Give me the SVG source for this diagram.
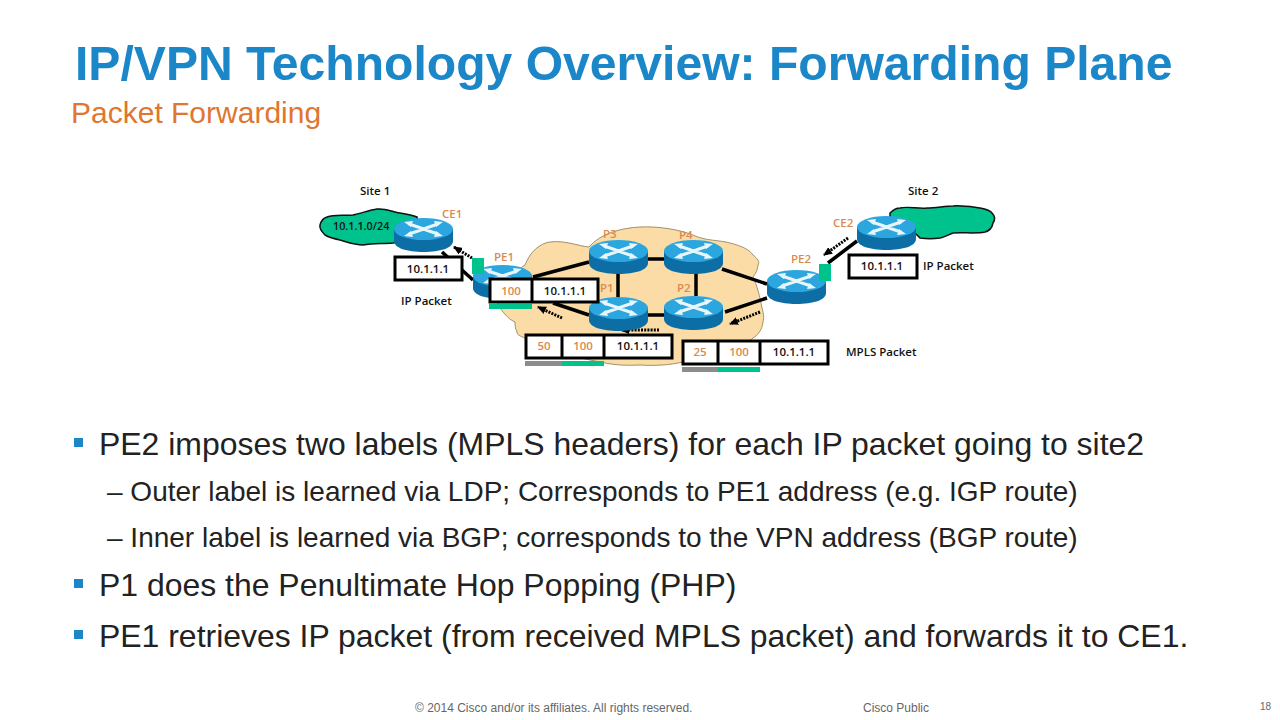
<svg xmlns="http://www.w3.org/2000/svg" width="1280" height="720" viewBox="0 0 1280 720">
<style>
text{font-family:"Liberation Sans",Arial,sans-serif}
.t{font-size:48.100px;font-weight:bold;fill:#1b87c9}
.s{font-size:30px;fill:#e0762f}
.b1{font-size:31.950px;fill:#222}
.b2{font-size:28px;fill:#222}
.bu{fill:#1b87c9}
.f{font-size:12px;fill:#666}
.d{font-family:"Open Sans","DejaVu Sans",sans-serif;font-size:11.500px;font-weight:600;fill:#111}
.o{font-family:"Open Sans","DejaVu Sans",sans-serif;font-size:11.500px;font-weight:600;fill:#d98a4e}
.c{text-anchor:middle}
.box{fill:#fff;stroke:#000;stroke-width:3}
.l{stroke:#000;stroke-width:3.500;fill:none}
.da{stroke:#000;stroke-width:3;stroke-dasharray:2 1.200;fill:none;marker-end:url(#ah)}
</style>
<defs>
<marker id="ah" markerUnits="userSpaceOnUse" markerWidth="9" markerHeight="8" refX="8" refY="4" orient="auto"><path d="M0 0L9 4L0 8Z" fill="#000"/></marker>
<g id="r">
<path d="M0 11V23C0 30 13 34 29.500 34S59 30 59 23V11Z" fill="#0d6ea6"/>
<ellipse cx="29.500" cy="11" rx="29.500" ry="11" fill="#2ba6de"/>
<path d="M15 6L24 9M44 16L35 13M44 6L35 9M15 16L24 13M24 9L35 13M35 9L24 13" fill="none" stroke="#e8f5fb" stroke-width="3"/>
<path d="M10 4L19 3L17 9ZM49 18L40 19L42 13ZM49 4L40 3L42 9ZM10 18L19 19L17 13Z" fill="#e8f5fb"/>
</g>
</defs>
<rect width="1280" height="720" fill="#fff"/>
<text class="t" x="75" y="80">IP/VPN Technology Overview: Forwarding Plane</text>
<text class="s" x="71" y="123">Packet Forwarding</text>

<g id="clouds">
<path id="core" d="M525 265C530 252 540 243 550 242C565 240 578 246 589 247C600 234 620 228 640 227C660 226 680 230 693 235C705 241 720 240 730 243C742 246 750 250 753 255C758 259 760 262 758 265C758 270 755 274 753 277C757 285 760 297 762 308C764 315 764 318 763 322C762 330 758 335 753 338C745 346 735 352 720 356C708 360 695 362 683 362C670 365 655 366 640 365C620 366 610 364 600 362C580 358 550 352 525 338C520 336 517 335 517 332C515 328 515 325 515 322C510 320 505 315 500 308C495 300 495 290 500 285C510 275 518 270 525 265Z" fill="#fbdca6" stroke="#8a7a50" stroke-width="0.800"/>
<path id="cloud1" d="M320 225C321 221 324 218 327 217C335 214 345 216 353 215C362 213 370 210 377 209C385 208 393 212 400 213C406 214 412 215 417 217L420 238L393 243C383 244 373 243 363 245C355 245 347 242 340 240C335 239 330 238 325 235C322 232 319 229 320 225Z" fill="#00c28c" stroke="#111" stroke-width="1.500"/>
<path id="cloud2" d="M890 213C893 210 896 208 900 208C908 206 918 209 927 208C936 208 945 206 953 206C962 205 972 207 980 208C985 209 990 210 992 213C995 216 995 220 993 223C992 228 989 231 985 232C975 234 963 232 953 233C948 235 945 237 940 238C933 239 927 239 920 238L915 233L890 225Z" fill="#00c28c" stroke="#111" stroke-width="1.500"/>
</g>

<g id="connectors">
<path class="l" d="M442 252L473 280M533 277L589 262M618 273V297M553 303L589 315M696 273V296M722 269L767 284M648 259L664 259M648 315L664 315M767 298L725 312M828 263L857 241"/>
<path class="da" d="M472 258L454 247"/>
<path class="da" d="M562 318L538 307"/>
<path class="da" d="M659 330L621 330"/>
<path class="da" d="M760 312L730 324"/>
<path class="da" d="M848 238L824 255"/>
</g>

<g id="CE1"><use href="#r" x="394" y="218"/><text class="o" x="442" y="218">CE1</text></g>
<g id="PE1"><use href="#r" x="473" y="265"/><text class="o" x="494" y="261">PE1</text></g>
<g id="P3"><use href="#r" x="589" y="240"/><text class="o" x="603" y="238">P3</text></g>
<g id="P1"><use href="#r" x="589" y="297"/><text class="o" x="600" y="292">P1</text></g>
<g id="P4"><use href="#r" x="664" y="240"/><text class="o" x="679" y="239">P4</text></g>
<g id="P2"><use href="#r" x="664" y="296"/><text class="o" x="677" y="292">P2</text></g>
<g id="PE2"><use href="#r" x="767" y="270"/><text class="o" x="791" y="263">PE2</text></g>
<g id="CE2"><use href="#r" x="857" y="216"/><text class="o" x="833" y="227">CE2</text></g>

<g id="ports"><rect x="472" y="258" width="12" height="16" fill="#00c28c"/><rect x="819" y="264" width="12" height="17" fill="#00c28c"/></g>

<g id="labels">
<text class="d" x="360" y="195">Site 1</text>
<text class="d" x="908" y="195">Site 2</text>
<text class="d" x="333" y="230" style="font-size:10.800px">10.1.1.0/24</text>
<text class="d" x="401" y="305">IP Packet</text>
<text class="d" x="923" y="270">IP Packet</text>
<text class="d" x="846" y="356">MPLS Packet</text>
</g>

<g id="pkt-ip-left"><rect class="box" x="395" y="257" width="67" height="23"/><text class="d c" x="428" y="273">10.1.1.1</text></g>
<g id="pkt-pe1">
<rect class="box" x="490" y="279" width="108" height="23"/><path d="M532 279V302" stroke="#000" stroke-width="3"/>
<text class="o c" x="511" y="295">100</text><text class="d c" x="565" y="295">10.1.1.1</text>
<rect x="489" y="304" width="43" height="5" fill="#00c28c"/>
</g>
<g id="pkt-p1">
<rect class="box" x="526" y="335" width="146" height="23"/><path d="M562 335V358M604 335V358" stroke="#000" stroke-width="3"/>
<text class="o c" x="544" y="350">50</text><text class="o c" x="583" y="350">100</text><text class="d c" x="638" y="350">10.1.1.1</text>
<rect x="525" y="361" width="37" height="5" fill="#8c8c8c"/><rect x="562" y="361" width="42" height="5" fill="#00c28c"/>
</g>
<g id="pkt-p2">
<rect class="box" x="683" y="341" width="145" height="23"/><path d="M718 341V364M760 341V364" stroke="#000" stroke-width="3"/>
<text class="o c" x="700" y="356">25</text><text class="o c" x="739" y="356">100</text><text class="d c" x="794" y="356">10.1.1.1</text>
<rect x="682" y="367" width="36" height="5" fill="#8c8c8c"/><rect x="718" y="367" width="42" height="5" fill="#00c28c"/>
</g>
<g id="pkt-ip-right"><rect class="box" x="849" y="255" width="68" height="23"/><text class="d c" x="882" y="270">10.1.1.1</text></g>

<g id="bullets">
<rect class="bu" x="74" y="438" width="9" height="9"/>
<text class="b1" x="99" y="455">PE2 imposes two labels (MPLS headers) for each IP packet going to site2</text>
<text class="b2" x="107" y="501">– Outer label is learned via LDP; Corresponds to PE1 address (e.g. IGP route)</text>
<text class="b2" x="107" y="547">– Inner label is learned via BGP; corresponds to the VPN address (BGP route)</text>
<rect class="bu" x="74" y="579" width="9" height="9"/>
<text class="b1" x="99" y="596">P1 does the Penultimate Hop Popping (PHP)</text>
<rect class="bu" x="74" y="630" width="9" height="9"/>
<text class="b1" x="99" y="647">PE1 retrieves IP packet (from received MPLS packet) and forwards it to CE1.</text>
</g>
<text class="f" x="415" y="712">© 2014 Cisco and/or its affiliates. All rights reserved.</text>
<text class="f" x="863" y="712">Cisco Public</text>
<text class="f" x="1260" y="710" style="font-size:10px">18</text>
</svg>
